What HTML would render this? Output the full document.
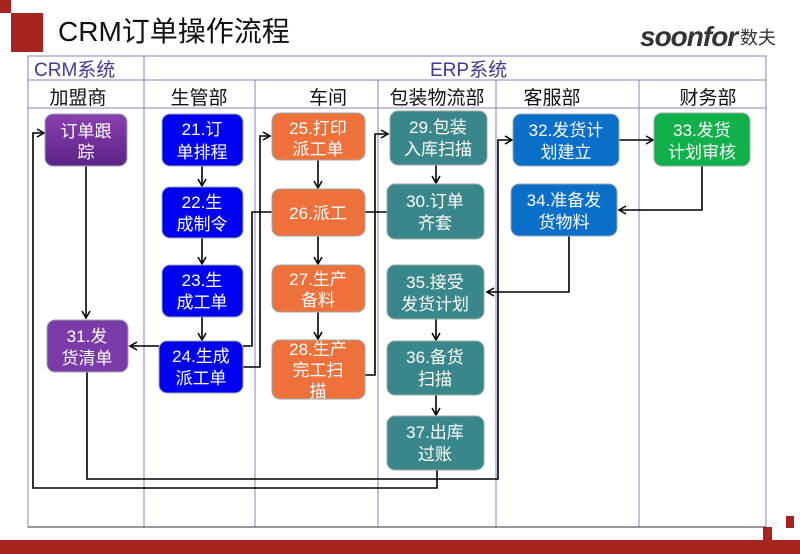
<!DOCTYPE html><html><head><meta charset="utf-8"><style>body{margin:0;background:#fff}svg{display:block}text{font-family:"Liberation Sans","Noto Sans CJK SC",sans-serif}</style></head><body>
<svg width="800" height="554" viewBox="0 0 800 554" xmlns="http://www.w3.org/2000/svg">
<defs><marker id="a" markerWidth="10" markerHeight="10" refX="8" refY="5" orient="auto" markerUnits="userSpaceOnUse"><path d="M1,1 L8,5 L1,9" fill="none" stroke="#000" stroke-width="1.5"/></marker>
<linearGradient id="pg" x1="0" y1="0" x2="0" y2="1"><stop offset="0" stop-color="#8a3fb0"/><stop offset="1" stop-color="#5c2486"/></linearGradient></defs>
<rect x="0" y="0" width="11" height="13" fill="#a8241f"/>
<rect x="11" y="13" width="32" height="39" fill="#a8241f"/>
<text x="58" y="41" font-size="28" fill="#111">CRM订单操作流程</text>
<text x="640" y="46" font-size="28" font-weight="bold" font-style="italic" fill="#333" letter-spacing="-1">soonfor</text>
<text x="740" y="44" font-size="18" fill="#333">数夫</text>
<rect x="0" y="540" width="800" height="14" fill="#a8241f"/>
<rect x="763" y="527" width="9" height="13" fill="#a8241f"/>
<rect x="786" y="516" width="8" height="12" fill="#a8241f"/>
<g stroke="#8a82bb" stroke-width="1" fill="none">
<rect x="28" y="56" width="738" height="471"/>
<line x1="28" y1="80" x2="766" y2="80"/><line x1="28" y1="108" x2="766" y2="108"/>
<line x1="144" y1="56" x2="144" y2="527"/>
<line x1="255" y1="80" x2="255" y2="527"/><line x1="378" y1="80" x2="378" y2="527"/>
<line x1="496" y1="80" x2="496" y2="527"/><line x1="639" y1="80" x2="639" y2="527"/>
</g>
<line x1="28" y1="527" x2="766" y2="527" stroke="#333"/>
<g font-size="19" fill="#3f3a99"><text x="34" y="76">CRM系统</text><text x="430" y="76">ERP系统</text></g>
<g font-size="19" fill="#111" text-anchor="middle"><text x="78" y="104">加盟商</text><text x="199" y="104">生管部</text><text x="328" y="104">车间</text><text x="437" y="104">包装物流部</text><text x="552" y="104">客服部</text><text x="708" y="104">财务部</text></g>
<g stroke="#000" stroke-width="1.6" fill="none">
<line x1="86" y1="166" x2="86" y2="318" marker-end="url(#a)"/>
<line x1="202" y1="166" x2="202" y2="186" marker-end="url(#a)"/>
<line x1="202" y1="238" x2="202" y2="264" marker-end="url(#a)"/>
<line x1="202" y1="317" x2="202" y2="340" marker-end="url(#a)"/>
<line x1="159" y1="346" x2="130" y2="346" marker-end="url(#a)"/>
<polyline points="243,346 252,346 252,212 272,212"/>
<polyline points="243,367 260,367 260,136 270,136" marker-end="url(#a)"/>
<line x1="318" y1="160" x2="318" y2="188" marker-end="url(#a)"/>
<line x1="318" y1="236" x2="318" y2="264" marker-end="url(#a)"/>
<line x1="318" y1="312" x2="318" y2="339" marker-end="url(#a)"/>
<line x1="365" y1="212" x2="387" y2="212"/>
<polyline points="365,375 375,375 375,134 388,134" marker-end="url(#a)"/>
<line x1="436" y1="165" x2="436" y2="183" marker-end="url(#a)"/>
<line x1="436" y1="319" x2="436" y2="340" marker-end="url(#a)"/>
<line x1="436" y1="395" x2="436" y2="415" marker-end="url(#a)"/>
<polyline points="437,470 437,488 33,488 33,133 44,133" marker-end="url(#a)"/>
<polyline points="87,372 87,479 498,479 498,140 512,140" marker-end="url(#a)"/>
<line x1="619" y1="140" x2="653" y2="140" marker-end="url(#a)"/>
<polyline points="702,166 702,210 619,210" marker-end="url(#a)"/>
<polyline points="569,236 569,292 487,292" marker-end="url(#a)"/>
</g>
<g stroke="#9aa" stroke-width="1">
<rect x="45" y="114" width="82" height="52" rx="8" fill="url(#pg)"/>
<rect x="47" y="320" width="81" height="52" rx="8" fill="#7a3aa8"/>
<rect x="162" y="114" width="81" height="52" rx="8" fill="#0000f0"/>
<rect x="162" y="187" width="81" height="51" rx="8" fill="#0000f0"/>
<rect x="162" y="265" width="81" height="52" rx="8" fill="#0000f0"/>
<rect x="159" y="341" width="84" height="52" rx="8" fill="#0000f0"/>
<rect x="272" y="113" width="93" height="47" rx="8" fill="#ee703a"/>
<rect x="272" y="189" width="93" height="47" rx="8" fill="#ee703a"/>
<rect x="272" y="265" width="93" height="47" rx="8" fill="#ee703a"/>
<rect x="272" y="340" width="93" height="59" rx="8" fill="#ee703a"/>
<rect x="390" y="111" width="97" height="54" rx="8" fill="#3a878b"/>
<rect x="387" y="184" width="97" height="55" rx="8" fill="#3a878b"/>
<rect x="387" y="265" width="97" height="54" rx="8" fill="#3a878b"/>
<rect x="387" y="341" width="97" height="54" rx="8" fill="#3a878b"/>
<rect x="387" y="416" width="97" height="54" rx="8" fill="#3a878b"/>
<rect x="513" y="114" width="106" height="52" rx="8" fill="#0a6fc8"/>
<rect x="511" y="184" width="106" height="52" rx="8" fill="#0a6fc8"/>
<rect x="654" y="113" width="96" height="53" rx="8" fill="#10b04a"/>
</g>
<g font-size="17" fill="#fff" text-anchor="middle">
<text x="86" y="137">订单跟</text><text x="86" y="158">踪</text>
<text x="87" y="342">31.发</text><text x="87" y="364">货清单</text>
<text x="202" y="135">21.订</text><text x="202" y="158">单排程</text>
<text x="202" y="208">22.生</text><text x="202" y="230">成制令</text>
<text x="202" y="286">23.生</text><text x="202" y="308">成工单</text>
<text x="201" y="362">24.生成</text><text x="201" y="384">派工单</text>
<text x="318" y="134">25.打印</text><text x="318" y="155">派工单</text>
<text x="318" y="219">26.派工</text>
<text x="318" y="285">27.生产</text><text x="318" y="306">备料</text>
<text x="318" y="355">28.生产</text><text x="318" y="376">完工扫</text><text x="318" y="397">描</text>
<text x="438" y="133">29.包装</text><text x="438" y="155">入库扫描</text>
<text x="435" y="207">30.订单</text><text x="435" y="229">齐套</text>
<text x="435" y="288">35.接受</text><text x="435" y="310">发货计划</text>
<text x="435" y="363">36.备货</text><text x="435" y="385">扫描</text>
<text x="435" y="438">37.出库</text><text x="435" y="460">过账</text>
<text x="566" y="136">32.发货计</text><text x="566" y="158">划建立</text>
<text x="564" y="206">34.准备发</text><text x="564" y="228">货物料</text>
<text x="702" y="136">33.发货</text><text x="702" y="158">计划审核</text>
</g>
</svg></body></html>
